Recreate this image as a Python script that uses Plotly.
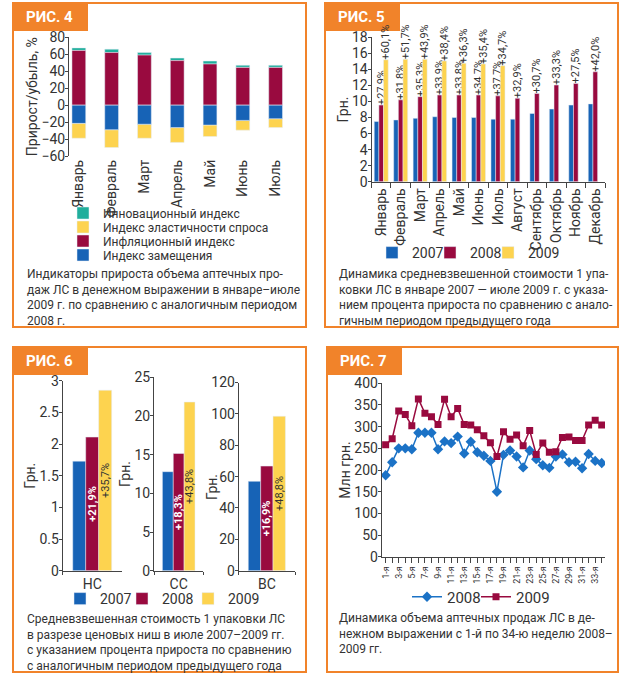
import plotly.graph_objects as go

W, H = 630, 679


def fx(p):
    return p / W


def fy(p):
    return 1 - p / H


# ---------------- data ----------------
# РИС. 4
months7 = ["Январь", "Февраль", "Март", "Апрель", "Май", "Июнь", "Июль"]
innov = [3.0, 4.0, 3.0, 3.0, 3.5, 2.5, 2.5]
infl = [64.5, 62.0, 59.0, 52.5, 48.5, 44.5, 44.5]
subst = [-21.5, -29.0, -22.5, -26.5, -23.5, -18.0, -16.0]
elast = [-17.5, -21.0, -16.5, -17.5, -13.5, -11.5, -10.5]

# РИС. 5
months12 = ["Январь", "Февраль", "Март", "Апрель", "Май", "Июнь", "Июль",
            "Август", "Сентябрь", "Октябрь", "Ноябрь", "Декабрь"]
cost2007 = [7.5, 7.7, 7.9, 8.1, 8.0, 8.0, 7.8, 7.8, 8.5, 9.05, 9.55, 9.7]
cost2008 = [9.55, 10.2, 10.6, 10.8, 10.8, 10.8, 10.7, 10.4, 11.0, 12.05, 12.25, 13.7]
cost2009 = [15.2, 15.25, 15.25, 15.05, 14.75, 14.67, 14.46]
lbl2008 = ["+27,9%", "+31,8%", "+35,3%", "+33,9%", "+33,8%", "+34,7%",
           "+37,7%", "+32,9%", "+30,7%", "+33,3%", "+27,5%", "+42,0%"]
lbl2009 = ["+60,1%", "+51,7%", "+43,9%", "+38,4%", "+36,3%", "+35,4%", "+34,7%"]

# РИС. 6
niches = ["НС", "СС", "ВС"]
niche2007 = [1.73, 12.8, 57.0]
niche2008 = [2.11, 15.15, 66.7]
niche2009 = [2.85, 21.8, 98.5]
niche_lbl2008 = ["+21,9%", "+18,3%", "+16,9%"]
niche_lbl2009 = ["+35,7%", "+43,8%", "+48,8%"]

# РИС. 7
weeks = list(range(1, 35))
sales2008 = [188, 218, 250, 250, 248, 286, 286, 286, 248, 266, 262, 277,
             238, 265, 241, 233, 221, 150, 235, 245, 231, 206, 245, 225,
             211, 205, 231, 236, 218, 219, 204, 237, 221, 216]
sales2009 = [258, 272, 336, 328, 302, 364, 331, 323, 305, 363, 323, 342,
             305, 304, 293, 279, 263, 231, 288, 271, 281, 256, 291, 236,
             262, 241, 242, 275, 276, 268, 268, 304, 315, 304]
week_ticks = [1, 3, 5, 7, 9, 11, 13, 15, 17, 19, 21, 23, 25, 27, 29, 31, 33]
week_labels = [f"{w}-я" for w in week_ticks]

# ---------------- style ----------------
BLUE = "#1763b6"
CRIMSON = "#990a3f"
YELLOW = "#fdd34f"
TEAL = "#20ae9c"
LBLUE = "#1b72c6"
ORANGE = "#f1832a"
AX = "#444444"
TXT = "#333333"
FONT = "Roboto"

fig = go.Figure()

# ---- РИС. 4 (stacked via base) ----
bw4 = 0.42
fig.add_bar(x=months7, y=innov, base=infl, name="Инновационный индекс",
            marker_color=TEAL, width=bw4, xaxis="x", yaxis="y", legend="legend")
fig.add_bar(x=months7, y=elast, base=subst, name="Индекс эластичности спроса",
            marker_color=YELLOW, width=bw4, xaxis="x", yaxis="y", legend="legend2")
fig.add_bar(x=months7, y=infl, name="Инфляционный индекс", marker_color=CRIMSON,
            width=bw4, xaxis="x", yaxis="y", legend="legend3")
fig.add_bar(x=months7, y=subst, name="Индекс замещения", marker_color=BLUE,
            width=bw4, xaxis="x", yaxis="y", legend="legend4")

# ---- РИС. 5 (grouped via offset) ----
bw5 = 0.24
fig.add_bar(x=months12, y=cost2007, name="2007", marker_color=BLUE, width=bw5,
            offset=-1.5 * bw5, xaxis="x2", yaxis="y2", legend="legend5")
fig.add_bar(x=months12, y=cost2008, name="2008", marker_color=CRIMSON, width=bw5,
            offset=-0.5 * bw5, xaxis="x2", yaxis="y2", legend="legend6",
            text=lbl2008, textposition="outside", textangle=-90,
            constraintext="none", cliponaxis=False,
            textfont=dict(size=11, color=TXT, family=FONT))
fig.add_bar(x=months12[:len(cost2009)], y=cost2009, name="2009", marker_color=YELLOW,
            width=bw5, offset=0.5 * bw5, xaxis="x2", yaxis="y2", legend="legend7",
            text=lbl2009, textposition="outside", textangle=-90,
            constraintext="none", cliponaxis=False,
            textfont=dict(size=11, color=TXT, family=FONT))

# ---- РИС. 6 (three small panels) ----
bw6 = 0.22
for i, n in enumerate(niches):
    xa, ya = f"x{3 + i}", f"y{3 + i}"
    fig.add_bar(x=[n], y=[niche2007[i]], name="2007", marker_color=BLUE,
                width=bw6, offset=-1.5 * bw6, xaxis=xa, yaxis=ya,
                legend="legend8", showlegend=(i == 0))
    fig.add_bar(x=[n], y=[niche2008[i]], name="2008", marker_color=CRIMSON,
                width=bw6, offset=-0.5 * bw6, xaxis=xa, yaxis=ya,
                legend="legend9", showlegend=(i == 0),
                text=[niche_lbl2008[i]], textposition="inside", textangle=-90,
                insidetextanchor="middle", constraintext="none",
                textfont=dict(size=11, color="white", family=FONT, weight="bold"))
    fig.add_bar(x=[n], y=[niche2009[i]], name="2009", marker_color=YELLOW,
                width=bw6, offset=0.5 * bw6, xaxis=xa, yaxis=ya,
                legend="legend10", showlegend=(i == 0),
                text=[niche_lbl2009[i]], textposition="inside", textangle=-90,
                insidetextanchor="middle", constraintext="none",
                textfont=dict(size=11, color=TXT, family=FONT))

# ---- РИС. 7 (lines) ----
fig.add_scatter(x=weeks, y=sales2008, name="2008", mode="lines+markers",
                line=dict(color=LBLUE, width=1.5),
                marker=dict(symbol="diamond", size=8, color=LBLUE),
                xaxis="x6", yaxis="y6", legend="legend11")
fig.add_scatter(x=weeks, y=sales2009, name="2009", mode="lines+markers",
                line=dict(color=CRIMSON, width=1.5),
                marker=dict(symbol="square", size=7, color=CRIMSON),
                xaxis="x6", yaxis="y6", legend="legend12")

# ---------------- axes ----------------
tickfont = dict(size=14, color=TXT, family=FONT)
yax_common = dict(showline=True, linecolor=AX, linewidth=1, ticks="outside",
                  ticklen=3, tickcolor=AX, showgrid=False, zeroline=False,
                  tickfont=tickfont, automargin=False, ticklabelstandoff=-3)
xax_common = dict(showgrid=False, zeroline=False, tickfont=tickfont,
                  linecolor=AX, tickcolor=AX, automargin=False)
ytitle_font = dict(size=14, color=TXT, family=FONT)

y4_dom = [fy(156), fy(37.3)]
y4_range = [-60, 80]
zero_pos = y4_dom[0] + (0 - y4_range[0]) / (y4_range[1] - y4_range[0]) * (y4_dom[1] - y4_dom[0])

layout = dict(
    width=W, height=H,
    margin=dict(l=0, r=0, t=0, b=0, pad=0, autoexpand=False),
    paper_bgcolor="white", plot_bgcolor="white", barmode="overlay",
    showlegend=True, hovermode=False,
    font=dict(family=FONT, color=TXT),
    # РИС. 4
    xaxis=dict(domain=[fx(69), fx(292)], anchor="y", type="category",
               range=[-0.3, 6.5], showline=False, ticks="", tickangle=-90,
               **xax_common),
    xaxis9=dict(overlaying="x", anchor="free", position=zero_pos, type="linear",
                range=[-0.3, 6.5], tickvals=[0.5, 1.5, 2.5, 3.5, 4.5, 5.5, 6.5],
                showticklabels=False, showline=True, linecolor=AX, ticks="outside",
                ticklen=5, tickcolor=AX, showgrid=False, zeroline=False,
                automargin=False),
    yaxis=dict(domain=y4_dom, anchor="x", range=y4_range, dtick=20,
               title=dict(text="Прирост/убыль, %", font=ytitle_font, standoff=0),
               **yax_common),
    # РИС. 5
    xaxis2=dict(domain=[fx(371.5), fx(605)], anchor="y2", type="category",
                showline=True, ticks="outside", ticklen=5, tickson="boundaries",
                tickangle=-90, **xax_common),
    yaxis2=dict(domain=[fy(181.7), fy(37.3)], anchor="x2", range=[0, 18], dtick=2,
                title=dict(text="Грн.", font=ytitle_font, standoff=0),
                **yax_common),
    # РИС. 6
    xaxis3=dict(domain=[fx(62.7), fx(121.7)], anchor="y3", type="category",
                showline=True, ticks="outside", ticklen=3, tickson="boundaries",
                **xax_common),
    yaxis3=dict(domain=[fy(570.7), fy(380.7)], anchor="x3", range=[0, 3], dtick=0.5,
                title=dict(text="Грн.", font=ytitle_font, standoff=0),
                **yax_common),
    xaxis4=dict(domain=[fx(154), fx(203.4)], anchor="y4", type="category",
                showline=True, ticks="outside", ticklen=3, tickson="boundaries",
                **xax_common),
    yaxis4=dict(domain=[fy(570.7), fy(377.3)], anchor="x4", range=[0, 25], dtick=5,
                title=dict(text="Грн.", font=ytitle_font, standoff=0),
                **yax_common),
    xaxis5=dict(domain=[fx(238.7), fx(295)], anchor="y5", type="category",
                showline=True, ticks="outside", ticklen=3, tickson="boundaries",
                **xax_common),
    yaxis5=dict(domain=[fy(570.7), fy(382.5)], anchor="x5", range=[0, 120], dtick=20,
                **yax_common),
    # РИС. 7
    xaxis6=dict(domain=[fx(381.7), fx(605)], anchor="y6", range=[0.4, 34.5],
                tickvals=week_ticks, ticktext=week_labels, tickangle=-90,
                showline=True, ticks="outside", ticklen=5,
                minor=dict(tick0=1, dtick=1, ticks="outside", ticklen=5, tickcolor=AX),
                showgrid=False, zeroline=False, linecolor=AX, tickcolor=AX,
                tickfont=dict(size=9, color=TXT, family=FONT), automargin=False),
    yaxis6=dict(domain=[fy(556.7), fy(383.3)], anchor="x6", range=[0, 400], dtick=50,
                title=dict(text="Млн грн.", font=ytitle_font, standoff=0),
                **yax_common),
)


def leg(text_x, ypx, size):
    # text of a plotly legend entry starts 40 px right of the legend's left edge
    return dict(x=fx(text_x - 40), y=fy(ypx), xanchor="left", yanchor="middle",
                bgcolor="rgba(0,0,0,0)", borderwidth=0,
                font=dict(size=size, color=TXT, family=FONT),
                itemclick=False, itemdoubleclick=False)


layout["legend"] = leg(103, 213, 12)
layout["legend2"] = leg(103, 227, 12)
layout["legend3"] = leg(103, 241, 12)
layout["legend4"] = leg(103, 255, 12)
layout["legend5"] = leg(412, 253, 14)
layout["legend6"] = leg(470, 253, 14)
layout["legend7"] = leg(528, 253, 14)
layout["legend8"] = leg(100, 599, 14)
layout["legend9"] = leg(162, 599, 14)
layout["legend10"] = leg(228, 599, 14)
layout["legend11"] = leg(447, 597, 15)
layout["legend12"] = leg(516, 597, 15)

# frames and tabs
shapes = []
frames = [(13, 3, 306, 327), (325, 3, 618, 327), (13, 347, 306, 672), (327, 347, 618, 672)]
for (x0, y0, x1, y1) in frames:
    shapes.append(dict(type="rect", xref="paper", yref="paper",
                       x0=fx(x0), x1=fx(x1), y0=fy(y1), y1=fy(y0),
                       line=dict(color=ORANGE, width=2), fillcolor="rgba(0,0,0,0)",
                       layer="below"))
    shapes.append(dict(type="rect", xref="paper", yref="paper",
                       x0=fx(x0 - 1), x1=fx(x0 + 75), y0=fy(y0 + 28), y1=fy(y0 - 1),
                       line=dict(width=0), fillcolor=ORANGE, layer="below"))
layout["shapes"] = shapes

annotations = []
for k, (x0, y0, x1, y1) in enumerate(frames):
    annotations.append(dict(xref="paper", yref="paper", x=fx(x0 + 11), y=fy(y0 + 14),
                            xanchor="left", yanchor="middle", showarrow=False,
                            text=f"<b>РИС. {k + 4}</b>",
                            font=dict(size=15, color="white", family=FONT)))

# y-axis title of the ВС panel (sits closer to its axis than plotly's auto title)
annotations.append(dict(xref="paper", yref="paper", x=fx(212), y=fy(487),
                        xanchor="center", yanchor="middle", showarrow=False,
                        textangle=-90, text="Грн.", font=ytitle_font))

captions = [
    (25, 265, "Индикаторы прироста объема аптечных про-<br>"
              "даж ЛС в денежном выражении в январе–июле<br>"
              "2009 г. по сравнению с аналогичным периодом<br>2008 г."),
    (337, 265, "Динамика средневзвешенной стоимости 1 упа-<br>"
               "ковки ЛС в январе 2007 — июле 2009 г. с указа-<br>"
               "нием процента прироста по сравнению с анало-<br>"
               "гичным периодом предыдущего года"),
    (25, 610, "Средневзвешенная стоимость 1 упаковки ЛС<br>"
              "в разрезе ценовых ниш в июле 2007–2009 гг.<br>"
              "с указанием процента прироста по сравнению<br>"
              "с аналогичным периодом предыдущего года"),
    (337, 609, "Динамика объема аптечных продаж ЛС в де-<br>"
               "нежном выражении с 1-й по 34-ю неделю 2008–<br>"
               "2009 гг."),
]
for (xp, yp, t) in captions:
    annotations.append(dict(xref="paper", yref="paper", x=fx(xp), y=fy(yp),
                            xanchor="left", yanchor="top", align="left",
                            showarrow=False, text=t,
                            font=dict(size=12, color=TXT, family=FONT)))
layout["annotations"] = annotations

fig.update_layout(**layout)
fig.write_html("out.html",
               config={"displayModeBar": False, "staticPlot": True},
               post_script="document.body.style.margin='0px';"
                           "document.body.style.padding='0px';")
